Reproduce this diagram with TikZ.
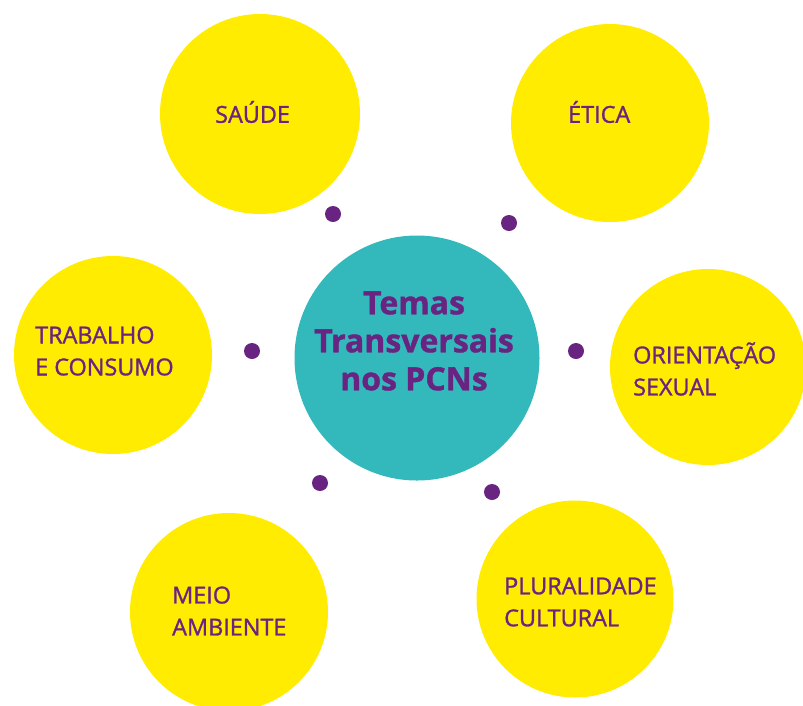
\documentclass[tikz,border=0pt]{standalone}
\usepackage{fontspec}
\setmainfont{Open Sans}
\newfontfamily\lblfont[FakeBold=1.2]{Open Sans}
\newfontfamily\hubfont[BoldFeatures={FakeBold=1.2}]{Open Sans}
\definecolor{yel}{HTML}{FFEC00}
\definecolor{teal2}{HTML}{33B8BC}
\definecolor{purp}{HTML}{692482}
\tikzset{
  topic/.style={circle, fill=yel, inner sep=0pt, minimum size=#1},
  hub/.style={circle, fill=teal2, inner sep=0pt, minimum size=245pt},
  dotmark/.style={circle, fill=purp, inner sep=0pt, minimum size=16pt},
  lbl/.style={text=purp, inner sep=0pt, anchor=west, align=left, font=\lblfont\fontsize{23.4}{32}\selectfont},
  hubtxt/.style={text=purp, inner sep=0pt, align=center, font=\hubfont\bfseries\fontsize{32}{38}\selectfont}
}
\begin{document}
\begin{tikzpicture}[x=1pt,y=-1pt]
\useasboundingbox (0,0) rectangle (803,705);
\clip (0,0) rectangle (803,705);
\node[hub] (hub) at (417,358) {};
\node[topic=200pt] (saude) at (260,114) {};
\node[topic=198pt] (etica) at (610,123) {};
\node[topic=196pt] (orient) at (708,367) {};
\node[topic=198pt] (trab) at (113,355) {};
\node[topic=198pt] (meio) at (229,612) {};
\node[topic=197pt] (plur) at (575,599) {};
\node[dotmark] (d1) at (333,214) {};
\node[dotmark] (d2) at (509,223) {};
\node[dotmark] (d3) at (576,351) {};
\node[dotmark] (d4) at (252,351) {};
\node[dotmark] (d5) at (320,483) {};
\node[dotmark] (d6) at (492,492) {};
\node[hubtxt] (hubt) at (414,341) {Temas\\Transversais\\nos PCNs};
\node[lbl] (tsaude) at (215,112) {SAÚDE};
\node[lbl] (tetica) at (568,112) {ÉTICA};
\node[lbl] (torient) at (633,369) {ORIENTAÇÃO\\SEXUAL};
\node[lbl] (ttrab) at (35,351) {TRABALHO\\E CONSUMO};
\node[lbl] (tmeio) at (172,611) {MEIO\\AMBIENTE};
\node[lbl] (tplur) at (504,602) {PLURALIDADE\\CULTURAL};
\end{tikzpicture}
\end{document}
